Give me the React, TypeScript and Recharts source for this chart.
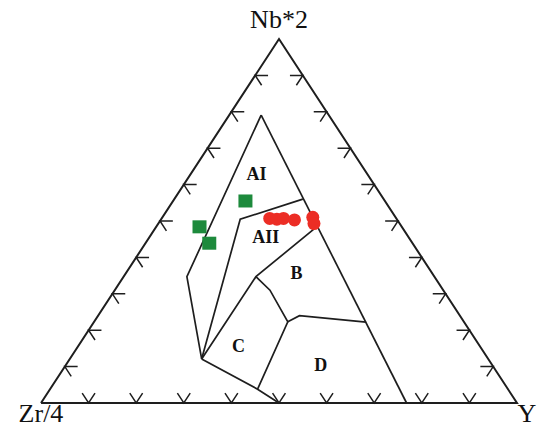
import React from 'react';
import { ScatterChart, Scatter, XAxis, YAxis } from 'recharts';

// Ternary coordinates are given as fractions (Nb, Y); Zr = 1 - Nb - Y
const tickFractions = [0.1, 0.2, 0.3, 0.4, 0.5, 0.6, 0.7, 0.8, 0.9];
const ARM = 0.027;

const triangleNb = [0, 0, 1, 0];
const triangleY = [0, 1, 0, 0];

// field boundaries (Nb, Y)
const rightBoundary = [[0.791, 0.067], [0.0, 0.768]];
const aiLeft = [[0.791, 0.067], [0.347, 0.133], [0.121, 0.277]];
const aiAii = [[0.56, 0.27], [0.505, 0.166], [0.121, 0.277]];
const aiiB = [[0.484, 0.337], [0.347, 0.278], [0.121, 0.277]];
const bcd = [[0.347, 0.278], [0.31, 0.326], [0.223, 0.407], [0.038, 0.436]];
const bd = [[0.223, 0.407], [0.24, 0.423], [0.222, 0.572]];
const cBottom = [[0.121, 0.277], [0.038, 0.436], [0.0, 0.5]];

const fieldNames = ['AI', 'AII', 'B', 'C', 'D'];
const fieldNb = [0.63, 0.456, 0.356, 0.156, 0.105];
const fieldY = [0.138, 0.244, 0.359, 0.337, 0.535];

const axisNames = ['Nb*2', 'Zr/4', 'Y'];
const axisNb = [1, 0, 0];
const axisY = [0, 0, 1];

const greenNb = [0.555, 0.484, 0.439];
const greenY = [0.152, 0.091, 0.134];

const redNb = [0.507, 0.505, 0.507, 0.503, 0.51, 0.493];
const redY = [0.227, 0.243, 0.256, 0.281, 0.316, 0.327];

const toXY = (nb: number, y: number) => ({ x: y + nb / 2, y: nb });
const lineData = (pts: number[][]) => pts.map(([nb, y]) => toXY(nb, y));

const ticks: { x: number; y: number }[][] = [];
tickFractions.forEach((f) => {
  ticks.push(lineData([[ARM, f], [0, f], [ARM, f - ARM]]));
  ticks.push(lineData([[f, ARM], [f, 0], [f - ARM, ARM]]));
  ticks.push(lineData([[f, 1 - f - ARM], [f, 1 - f], [f - ARM, 1 - f]]));
});

const triangleData = triangleNb.map((nb, i) => toXY(nb, triangleY[i]));
const boundaries = [rightBoundary, aiLeft, aiAii, aiiB, bcd, bd, cBottom].map(lineData);
const fieldData = fieldNames.map((name, i) => ({ ...toXY(fieldNb[i], fieldY[i]), name }));
const axisData = axisNames.map((name, i) => ({ ...toXY(axisNb[i], axisY[i]), name }));
const greenData = greenNb.map((nb, i) => toXY(nb, greenY[i]));
const redData = redNb.map((nb, i) => toXY(nb, redY[i]));

const axisLabelStyle: Record<string, { dx: number; dy: number }> = {
  'Nb*2': { dx: 0, dy: -11 },
  'Zr/4': { dx: 0, dy: 19 },
  Y: { dx: 10, dy: 19 },
};

const Empty = () => <g />;
const LINE = '#1e1e1e';

export default function App() {
  return (
    <div style={{ position: 'absolute', left: 0, top: 0, background: '#fff' }}>
      <ScatterChart width={541} height={429} margin={{ top: 39, right: 24, bottom: 26, left: 41 }}>
        <XAxis type="number" dataKey="x" domain={[0, 1]} hide />
        <YAxis type="number" dataKey="y" domain={[0, 1]} hide />
        <Scatter data={triangleData} line={{ stroke: LINE, strokeWidth: 2 }} shape={Empty} isAnimationActive={false} />
        {ticks.map((t, i) => (
          <Scatter key={'t' + i} data={t} line={{ stroke: LINE, strokeWidth: 1.5 }} shape={Empty} isAnimationActive={false} />
        ))}
        {boundaries.map((b, i) => (
          <Scatter key={'b' + i} data={b} line={{ stroke: LINE, strokeWidth: 1.7 }} shape={Empty} isAnimationActive={false} />
        ))}
        <Scatter
          data={fieldData}
          isAnimationActive={false}
          shape={(p: any) => (
            <text x={p.cx} y={p.cy} textAnchor="middle" dominantBaseline="central" fontFamily="'Liberation Serif', serif" fontWeight="bold" fontSize={18} fill="#111">
              {p.payload.name}
            </text>
          )}
        />
        <Scatter
          data={axisData}
          isAnimationActive={false}
          shape={(p: any) => {
            const s = axisLabelStyle[p.payload.name];
            return (
              <text x={p.cx + s.dx} y={p.cy + s.dy} textAnchor="middle" fontFamily="'Liberation Serif', serif" fontSize={26} fill="#111">
                {p.payload.name}
              </text>
            );
          }}
        />
        <Scatter
          data={greenData}
          isAnimationActive={false}
          shape={(p: any) => <rect x={p.cx - 7} y={p.cy - 6.5} width={14} height={13} fill="#1d8a3c" />}
        />
        <Scatter
          data={redData}
          isAnimationActive={false}
          shape={(p: any) => <circle cx={p.cx} cy={p.cy} r={6.5} fill="#ec2d25" />}
        />
      </ScatterChart>
    </div>
  );
}
